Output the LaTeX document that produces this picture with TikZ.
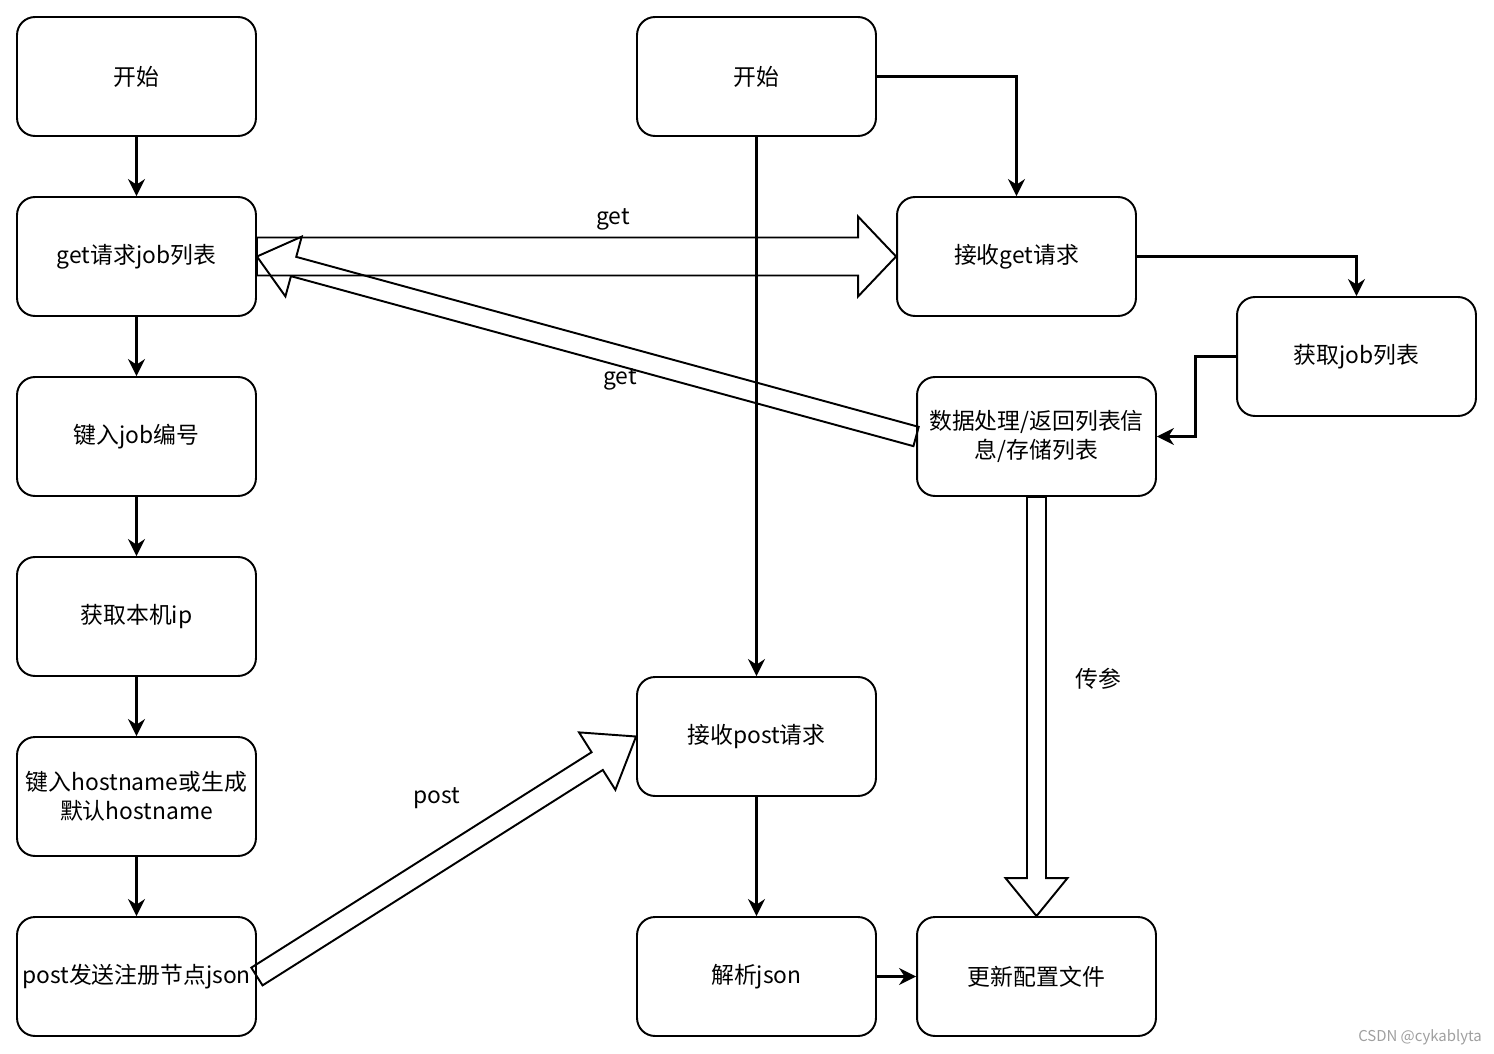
\documentclass[tikz,border=0pt]{standalone}
\usepackage{fontspec}
\setmainfont{Noto Sans CJK SC}
\usetikzlibrary{arrows.meta,calc}

\tikzset{
  box/.style={draw, rounded corners=0.36cm, line width=1.1pt, minimum width=4.78cm,
    minimum height=2.38cm, align=center, inner sep=1pt, font=\fontsize{13}{16.5}\selectfont},
  link/.style={line width=1.4pt, -{Stealth[length=0.34cm,width=0.34cm]}},
  fat/.style={line width=1.1pt, line join=miter},
  lbl/.style={font=\fontsize{13}{16.5}\selectfont},
}

% hollow arrow: tail, tip, half shaft, half head, head length
\newcommand{\fatarrow}[5]{%
  \coordinate (fa-h) at ($(#2)!#5!(#1)$);
  \draw[fat] ($(#1)!#3!90:(#2)$) -- ($(fa-h)!#3!-90:(#1)$) -- ($(fa-h)!#4!-90:(#1)$)
    -- (#2) -- ($(fa-h)!#4!90:(#1)$) -- ($(fa-h)!#3!90:(#1)$) -- ($(#1)!#3!-90:(#2)$) -- cycle;
}

\begin{document}
\begin{tikzpicture}[x=0.02cm,y=-0.02cm]
  \useasboundingbox (0,0) rectangle (1494,1054);

  % client side
  \node[box] (start1)   at (136.5,76.5)  {开始};
  \node[box] (getlist)  at (136.5,256.5) {get请求job列表};
  \node[box] (jobno)    at (136.5,436.5) {键入job编号};
  \node[box] (localip)  at (136.5,616.5) {获取本机ip};
  \node[box] (hostname) at (136.5,796.5) {键入hostname或生成\\默认hostname};
  \node[box] (postsend) at (136.5,976.5) {post发送注册节点json};

  % server side
  \node[box] (start2)   at (756.5,76.5)   {开始};
  \node[box] (recvpost) at (756.5,736.5)  {接收post请求};
  \node[box] (parse)    at (756.5,976.5)  {解析json};
  \node[box] (recvget)  at (1016.5,256.5) {接收get请求};
  \node[box] (fetch)    at (1356.5,356.5) {获取job列表};
  \node[box] (process)  at (1036.5,436.5) {数据处理/返回列表信\\息/存储列表};
  \node[box] (update)   at (1036.5,976.5) {更新配置文件};

  \draw[link] (start1) -- (getlist);
  \draw[link] (getlist) -- (jobno);
  \draw[link] (jobno) -- (localip);
  \draw[link] (localip) -- (hostname);
  \draw[link] (hostname) -- (postsend);

  \draw[link] (start2) -- (recvpost);
  \draw[link] (start2.east) -| (recvget.north);
  \draw[link] (recvget.east) -| (fetch.north);
  \draw[link] (fetch.west) -- +(-40.5,0) |- (process.east);
  \draw[link] (recvpost) -- (parse);
  \draw[link] (parse) -- (update);

  % requests
  \fatarrow{getlist.east}{recvget.west}{0.38cm}{0.8cm}{0.76cm}
  \fatarrow{process.west}{getlist.east}{0.2cm}{0.62cm}{0.76cm}
  \fatarrow{postsend.east}{recvpost.west}{0.21cm}{0.68cm}{0.92cm}
  \fatarrow{process.south}{update.north}{0.19cm}{0.62cm}{0.76cm}

  \node[lbl] (lblget)  at (613,219)  {get};
  \node[lbl] (lblback) at (620,379)  {get};
  \node[lbl] (lblpost) at (437,798)  {post};
  \node[lbl] (lblpass) at (1098,679) {传参};

  \node[text=gray!75, font=\fontsize{8.5}{10}\selectfont] (mark) at (1420,1037) {CSDN @cykablyta};
\end{tikzpicture}
\end{document}
